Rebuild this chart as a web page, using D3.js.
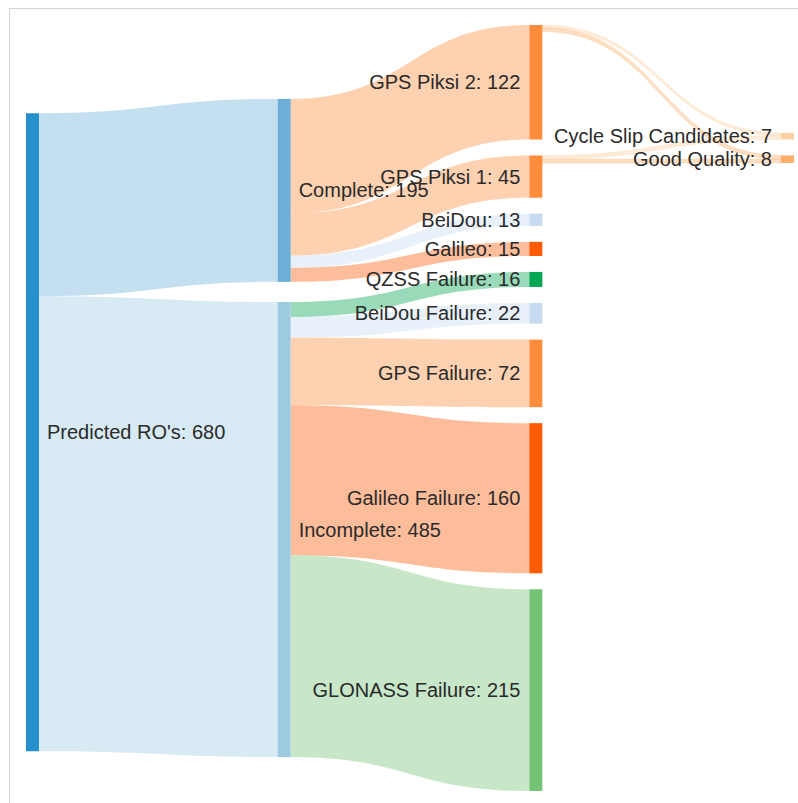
<!DOCTYPE html>
<html>
<head>
<meta charset="utf-8">
<script src="https://cdn.jsdelivr.net/npm/d3@7"></script>
<style>
  html, body { margin: 0; padding: 0; background: #fff; }
  svg { display: block; }
  .lbl { font-family: "Liberation Sans", Arial, sans-serif; font-size: 20px; fill: #2a2a2a; }
</style>
</head>
<body>
<svg id="chart" width="798" height="803"></svg>
<script>
// ---------- data ----------
const nodeNames = [
  "Predicted RO's", "Complete", "Incomplete",
  "GPS Piksi 2", "GPS Piksi 1", "BeiDou", "Galileo",
  "QZSS Failure", "BeiDou Failure", "GPS Failure", "Galileo Failure", "GLONASS Failure",
  "Cycle Slip Candidates", "Good Quality"
];
const nodeColors = [
  "#2690cc", "#6baed6", "#9ecae1",
  "#fd8d3c", "#fd8d3c", "#c6dbef", "#fc5a03",
  "#00a651", "#c6dbef", "#fd8d3c", "#fc5a03", "#74c476",
  "#fdd0a2", "#fdae6b"
];
const linkSources = [0, 0, 1, 1, 1, 1, 2, 2, 2, 2, 2, 3, 3, 4, 4];
const linkTargets = [1, 2, 3, 4, 5, 6, 7, 8, 9, 10, 11, 12, 13, 12, 13];
const linkValues  = [195, 485, 122, 45, 13, 15, 16, 22, 72, 160, 215, 3, 4, 4, 4];

// ---------- layout (d3-sankey style, nodes kept in input order) ----------
const ext = { x0: 26, y0: 25, x1: 794, y1: 791 };
const nodeWidth = 13, py = 16, iterations = 6, linkOpacity = 0.4;

const nodes = nodeNames.map((name, i) => ({ index: i, name, color: nodeColors[i], sourceLinks: [], targetLinks: [] }));
const links = linkValues.map((v, i) => ({ index: i, source: nodes[linkSources[i]], target: nodes[linkTargets[i]], value: v }));
links.forEach(l => { l.source.sourceLinks.push(l); l.target.targetLinks.push(l); });
nodes.forEach(n => n.value = Math.max(d3.sum(n.sourceLinks, l => l.value), d3.sum(n.targetLinks, l => l.value)));

{
  let current = new Set(nodes), next = new Set(), depth = 0;
  while (current.size) {
    for (const n of current) { n.depth = depth; for (const l of n.sourceLinks) next.add(l.target); }
    depth++; current = next; next = new Set();
  }
}
const maxDepth = d3.max(nodes, n => n.depth);
const xScale = d3.scaleLinear().domain([0, maxDepth]).range([ext.x0, ext.x1 - nodeWidth]);
nodes.forEach(n => { n.layer = n.depth; n.x0 = xScale(n.layer); n.x1 = n.x0 + nodeWidth; });
const columns = d3.range(maxDepth + 1).map(i => nodes.filter(n => n.layer === i));

const ky = d3.min(columns, c => (ext.y1 - ext.y0 - (c.length - 1) * py) / d3.sum(c, n => n.value));
const vScale = d3.scaleLinear().domain([0, 1]).range([0, ky]);

const ascendingBreadth = (a, b) => a.y0 - b.y0;
const ascendingSourceBreadth = (a, b) => ascendingBreadth(a.source, b.source) || a.index - b.index;
const ascendingTargetBreadth = (a, b) => ascendingBreadth(a.target, b.target) || a.index - b.index;
const center = n => (n.y0 + n.y1) / 2;

function reorderLinks(ns) {
  for (const { sourceLinks, targetLinks } of ns) {
    sourceLinks.sort(ascendingTargetBreadth);
    targetLinks.sort(ascendingSourceBreadth);
  }
}
function reorderNodeLinks({ sourceLinks, targetLinks }) {
  for (const { source: { sourceLinks } } of targetLinks) sourceLinks.sort(ascendingTargetBreadth);
  for (const { target: { targetLinks } } of sourceLinks) targetLinks.sort(ascendingSourceBreadth);
}
for (const col of columns) {
  let y = ext.y0;
  for (const node of col) {
    node.y0 = y; node.y1 = y + vScale(node.value); y = node.y1 + py;
    for (const link of node.sourceLinks) link.width = vScale(link.value);
  }
  y = (ext.y1 - y + py) / (col.length + 1);
  col.forEach((node, i) => { node.y0 += y * (i + 1); node.y1 += y * (i + 1); });
  reorderLinks(col);
}
function targetTop(source, target) {
  let y = source.y0 - (source.sourceLinks.length - 1) * py / 2;
  for (const { target: node, width } of source.sourceLinks) { if (node === target) break; y += width + py; }
  for (const { source: node, width } of target.targetLinks) { if (node === source) break; y -= width; }
  return y;
}
function sourceTop(source, target) {
  let y = target.y0 - (target.targetLinks.length - 1) * py / 2;
  for (const { source: node, width } of target.targetLinks) { if (node === source) break; y += width + py; }
  for (const { target: node, width } of source.sourceLinks) { if (node === target) break; y -= width; }
  return y;
}
function collideTopToBottom(ns, y, i, alpha) {
  for (; i < ns.length; ++i) {
    const node = ns[i]; const dy = (y - node.y0) * alpha;
    if (dy > 1e-6) { node.y0 += dy; node.y1 += dy; }
    y = node.y1 + py;
  }
}
function collideBottomToTop(ns, y, i, alpha) {
  for (; i >= 0; --i) {
    const node = ns[i]; const dy = (node.y1 - y) * alpha;
    if (dy > 1e-6) { node.y0 -= dy; node.y1 -= dy; }
    y = node.y0 - py;
  }
}
function resolveCollisions(ns, alpha) {
  const i = ns.length >> 1; const s = ns[i];
  collideBottomToTop(ns, s.y0 - py, i - 1, alpha);
  collideTopToBottom(ns, s.y1 + py, i + 1, alpha);
  collideBottomToTop(ns, ext.y1, ns.length - 1, alpha);
  collideTopToBottom(ns, ext.y0, 0, alpha);
}
function relaxLeftToRight(alpha, beta) {
  for (let i = 1; i < columns.length; ++i) {
    const col = columns[i];
    for (const target of col) {
      let y = 0, w = 0;
      for (const { source, value } of target.targetLinks) {
        const v = value * (target.layer - source.layer);
        y += targetTop(source, target) * v; w += v;
      }
      if (!(w > 0)) continue;
      const dy = (y / w - target.y0) * alpha;
      target.y0 += dy; target.y1 += dy;
      reorderNodeLinks(target);
    }
    resolveCollisions(col, beta);
  }
}
function relaxRightToLeft(alpha, beta) {
  for (let i = columns.length - 2; i >= 0; --i) {
    const col = columns[i];
    for (const source of col) {
      let y = 0, w = 0;
      for (const { target, value } of source.sourceLinks) {
        const v = value * (target.layer - source.layer);
        y += sourceTop(source, target) * v; w += v;
      }
      if (!(w > 0)) continue;
      const dy = (y / w - source.y0) * alpha;
      source.y0 += dy; source.y1 += dy;
      reorderNodeLinks(source);
    }
    resolveCollisions(col, beta);
  }
}
for (let i = 0; i < iterations; ++i) {
  const alpha = Math.pow(0.99, i);
  const beta = Math.max(1 - alpha, (i + 1) / iterations);
  relaxRightToLeft(alpha, beta);
  relaxLeftToRight(alpha, beta);
}
// final pass, first column (pure sources): settle on the ideal position for its outgoing links
{
  const first = columns[0];
  for (const node of first) {
    const y = d3.sum(node.sourceLinks, l => sourceTop(node, l.target) * l.value) / d3.sum(node.sourceLinks, l => l.value);
    const h = node.y1 - node.y0;
    node.y0 = y; node.y1 = y + h;
  }
  resolveCollisions(first, 1);
}
// final pass, last column (pure sinks): centre on the value-weighted centre of the sources, then stack
{
  const last = columns[columns.length - 1];
  for (const node of last) {
    const c = d3.sum(node.targetLinks, l => center(l.source) * l.value) / d3.sum(node.targetLinks, l => l.value);
    const h = node.y1 - node.y0;
    node.y0 = c - h / 2; node.y1 = c + h / 2;
  }
  collideTopToBottom(last, ext.y0, 0, 1);
  collideBottomToTop(last, ext.y1, last.length - 1, 1);
}
reorderLinks(nodes);
for (const node of nodes) {
  let a = node.y0, b = node.y0;
  for (const l of node.sourceLinks) { l.y0 = a + l.width / 2; a += l.width; }
  for (const l of node.targetLinks) { l.y1 = b + l.width / 2; b += l.width; }
}

// ---------- draw ----------
const svg = d3.select("#chart");

svg.append("rect").attr("x", 9.5).attr("y", 8.5).attr("width", 900).attr("height", 900)
  .attr("fill", "none").attr("stroke", "#d4d4d4").attr("stroke-width", 1);

function linkPath(d) {
  const x0 = d.source.x1, x1 = d.target.x0;
  const xi = d3.interpolateNumber(x0, x1);
  const x2 = xi(0.5), x3 = xi(0.5);
  const y0a = d.y0 - d.width / 2, y0b = d.y0 + d.width / 2;
  const y1a = d.y1 - d.width / 2, y1b = d.y1 + d.width / 2;
  return `M${x0},${y0a}C${x2},${y0a} ${x3},${y1a} ${x1},${y1a}L${x1},${y1b}C${x3},${y1b} ${x2},${y0b} ${x0},${y0b}Z`;
}

svg.append("g").selectAll("path").data(links).join("path")
  .attr("d", linkPath)
  .attr("fill", d => d.target.color)
  .attr("fill-opacity", linkOpacity)
  .attr("stroke", d => d.width < 5 ? d.target.color : "none")
  .attr("stroke-opacity", 0.35)
  .attr("stroke-width", 0.8);

svg.append("g").selectAll("rect").data(nodes).join("rect")
  .attr("x", d => d.x0).attr("y", d => d.y0)
  .attr("width", d => d.x1 - d.x0).attr("height", d => Math.max(1, d.y1 - d.y0))
  .attr("fill", d => d.color);

const midX = (ext.x0 + ext.x1) / 2;
svg.append("g").selectAll("text").data(nodes).join("text")
  .attr("class", "lbl")
  .attr("x", d => d.x0 < midX ? d.x1 + 8 : d.x0 - 9)
  .attr("y", d => (d.y0 + d.y1) / 2)
  .attr("dy", "0.35em")
  .attr("text-anchor", d => d.x0 < midX ? "start" : "end")
  .text(d => `${d.name}: ${d.value}`);
</script>
</body>
</html>
